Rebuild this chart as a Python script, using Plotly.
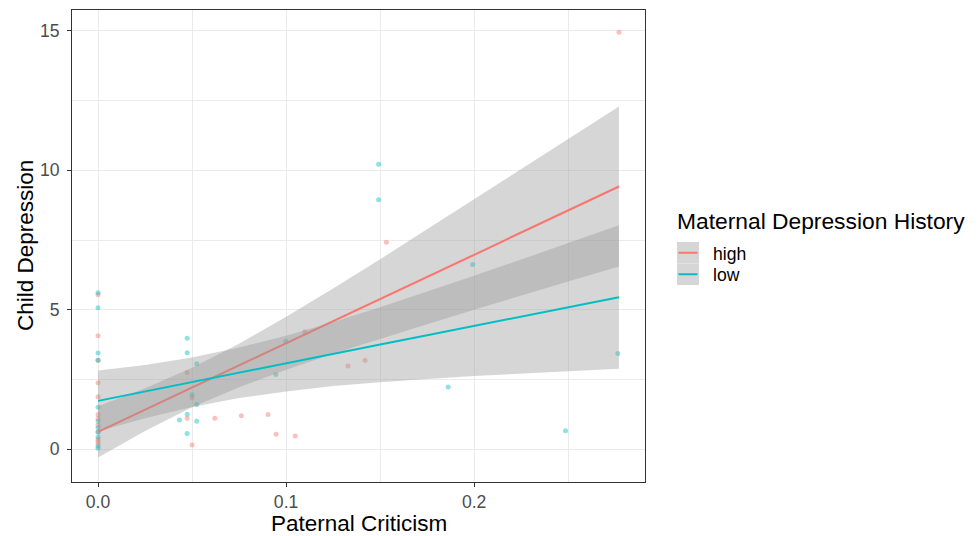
import plotly.graph_objects as go

# ---------------- data ----------------
groups = ["high", "low"]
colors = {"high": "#F8766D", "low": "#00BFC4"}

high_x = [0, 0, 0, 0, 0, 0, 0, 0, 0, 0, 0, 0,
          0.0474, 0.0500, 0.0474, 0.0621, 0.0762, 0.0904, 0.0947, 0.1048, 0.0500,
          0.1100, 0.1533, 0.1329, 0.1420, 0.277]
high_y = [5.54, 4.07, 3.19, 2.38, 1.88, 1.24, 1.10, 0.86, 0.62, 0.35, 0.27, 0.20,
          2.75, 1.84, 1.11, 1.11, 1.20, 1.24, 0.53, 0.47, 0.15,
          4.21, 7.42, 2.98, 3.19, 14.95]

low_x = [0, 0, 0, 0, 0, 0, 0, 0, 0, 0, 0,
         0.0474, 0.0474, 0.0525, 0.0500, 0.0525, 0.0474, 0.0433, 0.0525, 0.0474,
         0.0945, 0.0998, 0.1492, 0.1492, 0.1992, 0.1862, 0.2486, 0.2764]
low_y = [5.61, 5.07, 3.45, 3.19, 1.50, 1.00, 0.77, 0.60, 0.43, 0.10, 0.03,
         3.98, 3.46, 3.06, 1.95, 1.60, 1.25, 1.04, 1.00, 0.56,
         2.68, 3.87, 10.22, 8.94, 6.62, 2.23, 0.66, 3.43]

smooth_x = [0, 0.025, 0.05, 0.075, 0.1, 0.125, 0.15, 0.175, 0.2, 0.225, 0.25, 0.277]
high_fit = [0.62, 1.41, 2.21, 3.00, 3.80, 4.59, 5.39, 6.18, 6.97, 7.77, 8.56, 9.42]
high_hi = [1.54, 2.18, 2.92, 3.78, 4.75, 5.76, 6.81, 7.88, 8.95, 10.03, 11.12, 12.29]
high_lo = [-0.30, 0.65, 1.50, 2.22, 2.85, 3.42, 3.96, 4.48, 5.00, 5.51, 6.01, 6.55]
low_fit = [1.73, 2.07, 2.40, 2.74, 3.07, 3.41, 3.75, 4.08, 4.42, 4.75, 5.09, 5.45]
low_hi = [2.82, 3.02, 3.29, 3.64, 4.07, 4.56, 5.09, 5.65, 6.22, 6.80, 7.38, 8.03]
low_lo = [0.64, 1.11, 1.51, 1.83, 2.07, 2.26, 2.40, 2.51, 2.62, 2.71, 2.79, 2.88]

x_ticks = [0, 0.1, 0.2]
x_ticklabels = ["0.0", "0.1", "0.2"]
y_ticks = [0, 5, 10, 15]
y_ticklabels = ["0", "5", "10", "15"]

x_title = "Paternal Criticism"
y_title = "Child Depression"
legend_title = "Maternal Depression History"

points = {"high": (high_x, high_y), "low": (low_x, low_y)}
smooths = {"high": (high_fit, high_lo, high_hi), "low": (low_fit, low_lo, low_hi)}

# ---------------- layout geometry ----------------
OFF = 8                      # default page body margin
W, H = 979 - OFF, 536 - OFF  # figure size
# target panel in page pixels: left 72, right 645, top 10, bottom 482
ML = 72 - OFF
MT = 10 - OFF
MR = W - (645 - OFF)
MB = H - (482 - OFF)
PW, PH = W - ML - MR, H - MT - MB
FONT = "Liberation Sans, Arial, sans-serif"
RIBBON = "rgba(153,153,153,0.4)"


def px(x):
    """page pixel x -> paper coordinate"""
    return (x - OFF - ML) / PW


def py(y):
    """page pixel y -> paper coordinate"""
    return 1 - (y - OFF - MT) / PH


fig = go.Figure()

# points first
for g in groups:
    xs, ys = points[g]
    fig.add_trace(go.Scatter(
        x=xs, y=ys, mode="markers", showlegend=False,
        marker=dict(color=colors[g], size=5, opacity=0.45, line=dict(width=0)),
    ))

# ribbons + lines per group
for g in groups:
    fit, lo, hi = smooths[g]
    fig.add_trace(go.Scatter(
        x=smooth_x + smooth_x[::-1], y=hi + lo[::-1],
        mode="lines", fill="toself", fillcolor=RIBBON,
        line=dict(width=0), showlegend=False, hoverinfo="skip",
    ))
    fig.add_trace(go.Scatter(
        x=smooth_x, y=fit, mode="lines", showlegend=False,
        line=dict(color=colors[g], width=2),
    ))

axis_common = dict(
    showgrid=True, gridcolor="#EBEBEB", gridwidth=1,
    zeroline=False, showline=True, mirror=True,
    linecolor="#333333", linewidth=1,
    ticks="outside", ticklen=4, tickwidth=1, tickcolor="#333333",
    tickfont=dict(family=FONT, size=17.6, color="#4D4D4D"),
)

fig.update_xaxes(
    range=[-0.01385, 0.29085], tickvals=x_ticks, ticktext=x_ticklabels,
    minor=dict(dtick=0.05, tick0=0, showgrid=True, gridcolor="#EBEBEB", gridwidth=0.6),
    **axis_common,
)
fig.update_yaxes(
    range=[-1.18, 15.75], tickvals=y_ticks, ticktext=y_ticklabels,
    ticklabelstandoff=4,
    minor=dict(dtick=2.5, tick0=0, showgrid=True, gridcolor="#EBEBEB", gridwidth=0.6),
    **axis_common,
)

annotations = [
    dict(text=x_title, x=0.5, y=py(523), xref="paper", yref="paper",
         xanchor="center", yanchor="middle", showarrow=False,
         font=dict(family=FONT, size=22.5, color="black")),
    dict(text=y_title, x=px(25), y=py(246), xref="paper", yref="paper",
         xanchor="center", yanchor="middle", showarrow=False, textangle=-90,
         font=dict(family=FONT, size=22.5, color="black")),
    dict(text=legend_title, x=px(675), y=py(221), xref="paper", yref="paper",
         xanchor="left", yanchor="middle", showarrow=False,
         font=dict(family=FONT, size=22.8, color="black")),
]

shapes = []
key_top = 242
key_h = 21.5
for i, g in enumerate(groups):
    y0 = key_top + i * key_h
    yc = y0 + key_h / 2
    shapes.append(dict(type="rect", xref="paper", yref="paper",
                       x0=px(677), x1=px(699), y0=py(y0), y1=py(y0 + key_h),
                       fillcolor="#D6D6D6", line=dict(width=0), layer="above"))
    shapes.append(dict(type="line", xref="paper", yref="paper",
                       x0=px(678.5), x1=px(697.5), y0=py(yc), y1=py(yc),
                       line=dict(color=colors[g], width=2), layer="above"))
    annotations.append(dict(text=g, x=px(711), y=py(yc + 1), xref="paper", yref="paper",
                            xanchor="left", yanchor="middle", showarrow=False,
                            font=dict(family=FONT, size=17.6, color="black")))

fig.update_layout(
    width=W, height=H,
    margin=dict(l=ML, r=MR, t=MT, b=MB, pad=0),
    paper_bgcolor="white", plot_bgcolor="white",
    showlegend=False,
    annotations=annotations,
    shapes=shapes,
    font=dict(family=FONT),
)

fig.write_html("out.html")
